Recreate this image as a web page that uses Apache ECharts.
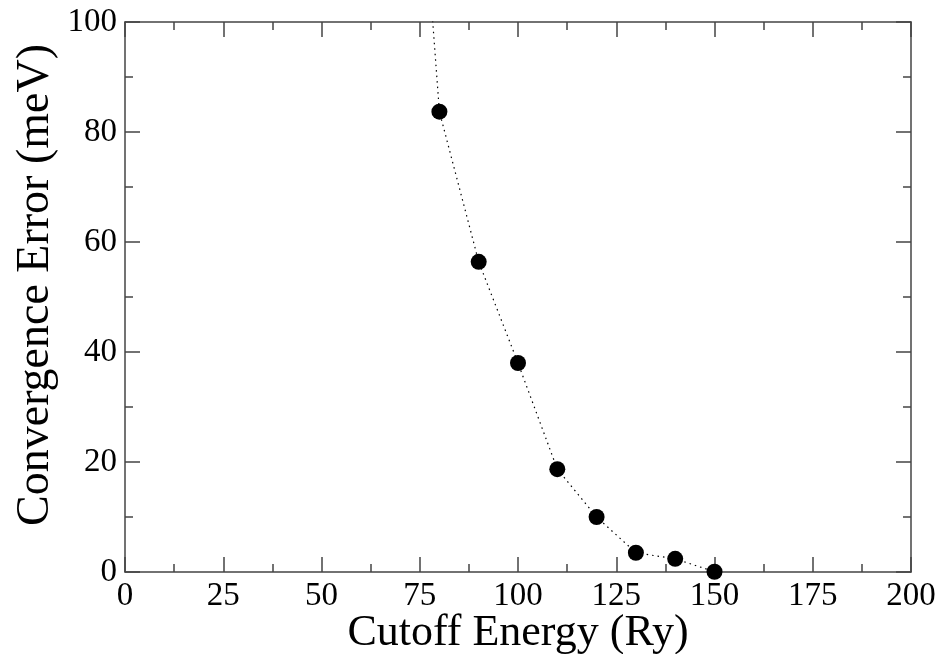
<!DOCTYPE html>
<html>
<head>
<meta charset="utf-8">
<script src="https://cdn.jsdelivr.net/npm/echarts@6/dist/echarts.min.js"></script>
<style>html,body{margin:0;padding:0;background:#fff;}#c{width:941px;height:654px;}</style>
</head>
<body>
<div id="c"></div>
<script>
const cutoff = [70, 80, 90, 100, 110, 120, 130, 140, 150];
const errorMeV = [180, 83.7, 56.4, 38.0, 18.7, 10.0, 3.5, 2.4, 0.05];
const xTicks = [0, 25, 50, 75, 100, 125, 150, 175, 200];
const yTicks = [0, 20, 40, 60, 80, 100];

const FONT = 'Liberation Serif';
const AX = '#444';
const data = cutoff.map((x, i) => [x, errorMeV[i]]);

const baseX = {
  type: 'value', min: 0, max: 200, interval: 25,
  axisLine: { show: true, onZero: false, lineStyle: { color: AX, width: 1.5 } },
  axisTick: { show: true, inside: true, length: 15, lineStyle: { color: AX, width: 1.5 } },
  minorTick: { show: true, splitNumber: 2, length: 8, lineStyle: { color: AX, width: 1.5 } },
  splitLine: { show: false }
};
const baseY = {
  type: 'value', min: 0, max: 100, interval: 20,
  axisLine: { show: true, onZero: false, lineStyle: { color: AX, width: 1.5 } },
  axisTick: { show: true, inside: true, length: 15, lineStyle: { color: AX, width: 1.5 } },
  minorTick: { show: true, splitNumber: 2, length: 8, lineStyle: { color: AX, width: 1.5 } },
  splitLine: { show: false }
};

const chart = echarts.init(document.getElementById('c'), null, { renderer: 'canvas' });
chart.setOption({
  animation: false,
  backgroundColor: '#fff',
  grid: { left: 125, right: 30, top: 22, bottom: 82, containLabel: false, outerBoundsMode: 'none' },
  xAxis: [
    Object.assign({}, baseX, {
      position: 'bottom',
      name: 'Cutoff Energy (Ry)', nameLocation: 'middle', nameGap: 39, nameMoveOverlap: false,
      nameTextStyle: { fontFamily: FONT, fontSize: 44, color: '#000' },
      axisLabel: { show: true, margin: 8, fontFamily: FONT, fontSize: 33, color: '#000',
        formatter: v => xTicks.includes(v) ? String(v) : '' }
    }),
    Object.assign({}, baseX, { position: 'top', axisLabel: { show: false } })
  ],
  yAxis: [
    Object.assign({}, baseY, {
      position: 'left',
      name: 'Convergence Error (meV)', nameLocation: 'middle', nameGap: 66, nameMoveOverlap: false,
      nameTextStyle: { fontFamily: FONT, fontSize: 46, color: '#000', padding: [0, 0, 0, 24] },
      axisLabel: { show: true, margin: 8, fontFamily: FONT, fontSize: 33, color: '#000',
        formatter: v => yTicks.includes(v) ? String(v) : '' }
    }),
    Object.assign({}, baseY, { position: 'right', axisLabel: { show: false } })
  ],
  series: [{
    type: 'line',
    data: data,
    clip: true,
    symbol: 'circle',
    symbolSize: 16,
    itemStyle: { color: '#000' },
    lineStyle: { color: '#000', width: 1.2, type: [1.5, 4] }
  }]
});
</script>
</body>
</html>
